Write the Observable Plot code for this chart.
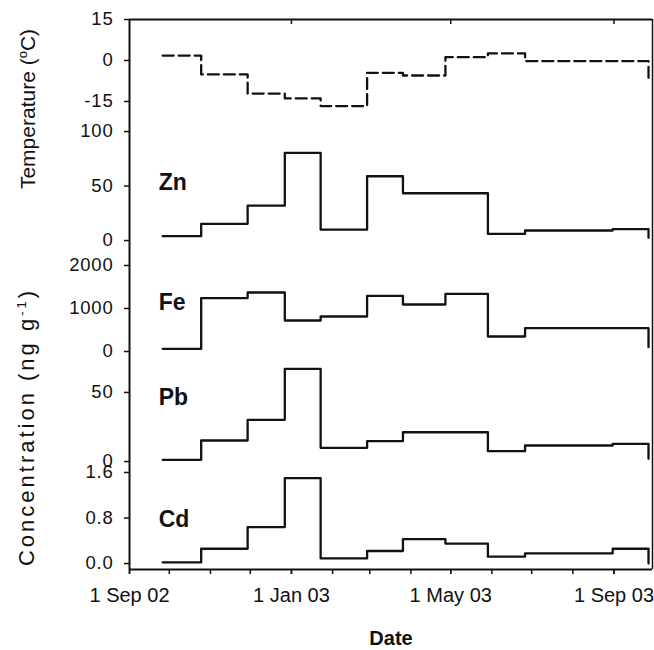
<!DOCTYPE html>
<html><head><meta charset="utf-8">
<script src="https://cdn.jsdelivr.net/npm/d3@7"></script>
<script src="https://cdn.jsdelivr.net/npm/@observablehq/plot@0.6"></script>
<style>
body{margin:0;background:#fff;font-family:"Liberation Sans",Arial,sans-serif;}
#chart{position:relative;width:654px;height:650px;overflow:hidden;}
#panels svg{display:block;}
.ttl{position:absolute;color:#111;white-space:nowrap;transform:translate(-50%,-50%) rotate(-90deg);font-size:21px;}
.ttl sup{font-size:13px;}
#xt{position:absolute;left:391px;top:638px;transform:translate(-50%,-50%);font-weight:bold;font-size:20px;color:#111;}
#panels svg g[aria-label="y-axis tick label"] text{letter-spacing:0.8px;}
</style></head><body>
<div id="chart"><div id="panels"></div>
<div class="ttl" style="left:27px;top:109px;">Temperature (<sup>o</sup>C)</div>
<div class="ttl" style="left:27px;top:427px;letter-spacing:3px;font-size:22px;">Concentration (ng g<sup>-1</sup>)</div>
<div id="xt">Date</div>
</div>
<script>
// sampling period boundaries (start of each period, last = end of record)
const periodDates = ["2002-09-26","2002-10-25","2002-11-29","2002-12-27","2003-01-23","2003-02-27","2003-03-26","2003-04-27","2003-05-29","2003-06-26","2003-08-31","2003-09-27"];
// values per period, followed by the closing value at the end of the record
const temperature = [1.8, -5.1, -12.1, -13.9, -16.7, -4.5, -5.5, 1.2, 2.6, -0.2, -0.2, -7];
const zn = [4, 15.3, 32, 80.4, 10, 59, 43.4, 43.4, 6.1, 9.2, 10.4, 2.5];
const fe = [63, 1240, 1372, 721, 814, 1295, 1093, 1341, 349, 543, 543, 100];
const pb = [1.2, 15.2, 30.2, 67, 9.9, 14.7, 21.2, 21.2, 7.5, 11.6, 12.8, 2];
const cd = [0.02, 0.26, 0.64, 1.5, 0.09, 0.22, 0.43, 0.35, 0.12, 0.18, 0.26, 0];

const tempTicks = [-15, 0, 15];
const znTicks = [0, 50, 100];
const feTicks = [0, 1000, 2000];
const pbTicks = [0, 50];
const cdTicks = [0, 0.8, 1.6];

const tempDomain = [-20.5, 15];
const znDomain = [-7.3, 113.8];
const feDomain = [-116, 2395];
const pbDomain = [-3.6, 76];
const cdDomain = [-0.105, 1.705];

const labelNames = ["Zn", "Fe", "Pb", "Cd"];
const labelDate = "2002-09-23";
const labelValues = [53, 1140, 46, 0.77];

const xDomain = [new Date("2002-09-01"), new Date("2003-09-30")];
const labeledTicks = ["2002-09-01","2003-01-01","2003-05-01","2003-09-01"].map(d => new Date(d));
const topTicks = ["2003-01-01","2003-05-01","2003-09-01"].map(d => new Date(d));
const monthTicks = d3.utcMonth.range(new Date("2002-09-01"), new Date("2003-09-02"));

const ink = "#111";
const font = "Liberation Sans, Arial, sans-serif";

function series(vals) {
  return periodDates.map((d, i) => ({date: new Date(d), value: vals[i]}));
}

const plain = d => String(d);
const panels = [
  {vals: temperature, domain: tempDomain, ticks: tempTicks, height: 116, mt: 19, mb: 0, dash: "11,5", label: null, fmt: plain},
  {vals: zn, domain: znDomain, ticks: znTicks, height: 132, mt: 0, mb: 0, label: 0, fmt: plain},
  {vals: fe, domain: feDomain, ticks: feTicks, height: 108, mt: 0, mb: 0, label: 1, fmt: plain},
  {vals: pb, domain: pbDomain, ticks: pbTicks, height: 110, mt: 0, mb: 0, label: 2, fmt: plain},
  {vals: cd, domain: cdDomain, ticks: cdTicks, height: 184, mt: 0, mb: 81, label: 3, fmt: d3.format(".1f")}
];

const container = document.getElementById("panels");
panels.forEach((p, idx) => {
  const first = idx === 0, last = idx === panels.length - 1;
  const marks = [
    Plot.ruleX([xDomain[0]], {stroke: ink, strokeWidth: 2}),
    Plot.ruleX([xDomain[1]], {stroke: ink, strokeWidth: 1.5}),
    Plot.axisY({ticks: p.ticks, tickSize: 5, tickPadding: 11, tickFormat: p.fmt, fontSize: 18.5, label: null, stroke: ink, strokeWidth: 1.5}),
    Plot.line(series(p.vals), {x: "date", y: "value", curve: "step-after", stroke: ink, strokeWidth: 2.3, strokeDasharray: p.dash || null})
  ];
  if (p.label !== null) {
    marks.push(Plot.text([labelNames[p.label]], {x: new Date(labelDate), y: labelValues[p.label], text: d => d, textAnchor: "start", fontWeight: "bold", fontSize: 23, fill: ink}));
  }
  if (first) {
    marks.push(Plot.ruleY([p.domain[1]], {stroke: ink, strokeWidth: 2}));
    marks.push(Plot.axisX({anchor: "top", ticks: topTicks, tickSize: -4, tickFormat: () => "", label: null, stroke: ink, strokeWidth: 1.5}));
  }
  if (last) {
    marks.push(Plot.ruleY([p.domain[0]], {stroke: ink, strokeWidth: 2}));
    marks.push(Plot.axisX({anchor: "bottom", ticks: monthTicks, tickSize: 5, tickFormat: () => "", label: null, stroke: ink, strokeWidth: 1.5}));
    marks.push(Plot.axisX({anchor: "bottom", ticks: labeledTicks, tickSize: 5, tickPadding: 13, tickFormat: d3.utcFormat("%-d %b %y"), fontSize: 20, label: null, stroke: ink, strokeWidth: 1.5}));
  }
  const xOpts = {type: "utc", domain: xDomain};
  if (!first && !last) xOpts.axis = null;
  const chart = Plot.plot({
    width: 654,
    height: p.height,
    marginLeft: 129,
    marginRight: 2,
    marginTop: p.mt,
    marginBottom: p.mb,
    x: xOpts,
    y: {domain: p.domain},
    style: {background: "transparent", overflow: "visible", fontFamily: font, color: ink, fontSize: "19px"},
    marks
  });
  container.appendChild(chart);
});
</script>
</body></html>
